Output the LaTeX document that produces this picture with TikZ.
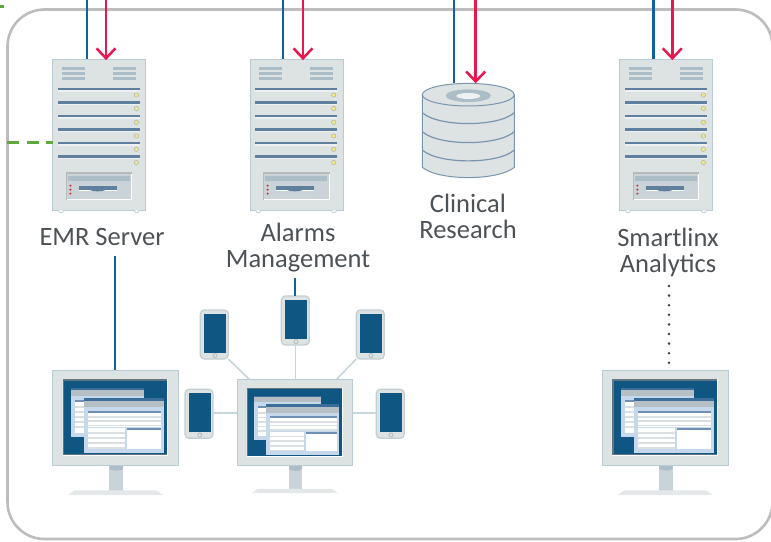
\documentclass[tikz,border=0pt]{standalone}
\usepackage{fontspec}
\setmainfont{Carlito}
\usetikzlibrary{arrows.meta}
\definecolor{bodyc}{HTML}{DDE2E3}
\definecolor{edgec}{HTML}{B9CBD3}
\definecolor{barc}{HTML}{5F7F9F}
\definecolor{ventc}{HTML}{ABBDC7}
\definecolor{panelc}{HTML}{C9D3D8}
\definecolor{navy}{HTML}{0F5782}
\definecolor{winc}{HTML}{C5D8EC}
\definecolor{winbar}{HTML}{6F8FB5}
\definecolor{winhead}{HTML}{3C6E9C}
\definecolor{wingray}{HTML}{B6BFC3}
\definecolor{rowc}{HTML}{D9DFE2}
\definecolor{blueln}{HTML}{0F619F}
\definecolor{redln}{HTML}{E8174F}
\definecolor{greenln}{HTML}{5FA83C}
\definecolor{frame}{HTML}{BDBDBD}
\definecolor{txt}{HTML}{4D5257}
\definecolor{linkc}{HTML}{C8D6DB}
\definecolor{phoneedge}{HTML}{C3CED2}
\tikzset{
  x=1pt,y=-1pt,
  hold/.style={inner sep=0pt,outer sep=0pt,anchor=north west},
  label/.style={align=center,text=txt,font=\fontsize{26.5}{26}\selectfont,inner sep=0pt},
  bluewire/.style={blueln,line width=2.5pt},
  redwire/.style={redln,line width=2.5pt,-{Straight Barb[length=10pt,width=19pt,line width=2.5pt]}},
  link/.style={linkc,line width=1.6pt},
  serverpic/.pic={
    \filldraw[fill=bodyc,draw=edgec,line width=1pt] (0,0) rectangle (93,151);
    \foreach \xx in {9.3,60.3}\foreach \yy in {7.7,13,17.7}
      \fill[ventc] (\xx,\yy) rectangle ++(23,3);
    \foreach \yy/\hh in {28.6/2.3,41.4/3.3,55.6/2.3,68.4/3.3,82.6/2.3,95.4/3.3}{
      \fill[barc] (5.3,\yy) rectangle ++(82,\hh);
      \fill[white!50!bodyc] (5.3,\yy+\hh) rectangle ++(82,1.3);
    }
    \foreach \yy in {35.7,49.3,63,76.7,90,103.3}
      \filldraw[fill=yellow!45!bodyc,draw=gray!60,line width=.5pt] (83.7,\yy) circle[radius=2.2pt];
    \fill[white] (13.3,112.7) rectangle (79.7,140.7);
    \fill[panelc] (13.3,112.7) rectangle (78.7,139.7);
    \fill[gray!55] (13.3,112.7) rectangle (79.7,114.2);
    \fill[gray!55] (13.3,112.7) rectangle (14.1,140.7);
    \fill[ventc] (15.3,116.7) rectangle (77.3,121.7);
    \fill[white] (26.3,130.7) rectangle (64,131.6);
    \fill[barc] (26.3,126.7) rectangle (64,130.7);
    \fill[barc] (37,130.7) .. controls (40,132.5) and (50,132.5) .. (53,130.7);
    \foreach \yy in {126.3,130.3,134.3}
      \fill[red!70!gray] (17.7,\yy) circle[radius=1.1pt];
    \foreach \xx in {8.3,84}
      \filldraw[fill=white,draw=edgec,line width=.7pt] (\xx-2.5,151) arc[start angle=180,end angle=360,radius=2.5pt];
  },
  monitorpic/.pic={
    \fill[panelc] (57,94) rectangle (70.7,121);
    \fill[ventc] (57,94) -- (70.7,94) -- (70.7,98.5) .. controls (68,100.8) and (60,100.8) .. (57,98.5) -- cycle;
    \fill[bodyc!80!white] (22,120) -- (104,120) -- (110.3,124.7) -- (16,124.7) -- cycle;
    \filldraw[fill=bodyc,draw=edgec,line width=1pt] (0,0) rectangle (126.3,94.7);
    \fill[white] (10.3,9) rectangle (116,85.3);
    \fill[gray!75!navy] (10.3,9) rectangle (115,84.3);
    \fill[navy] (11.6,10.3) rectangle (115,84);
    % back window
    \fill[winc] (18.7,18) rectangle (91.7,67);
    \fill[winhead] (18.7,18) rectangle (91.7,19.7);
    \fill[wingray] (18.7,19.7) rectangle (91.7,25.3);
    \fill[white] (22.7,29.7) rectangle (31.7,62.3);
    \fill[winbar] (22.7,29.7) rectangle (31.7,31.7);
    \foreach \yy in {36,41,46,51,56}
      \fill[rowc] (22.7,\yy) rectangle (31.7,\yy+1.6);
    % front window
    \fill[winc] (31.7,27.3) rectangle (111.7,82.7);
    \fill[winhead] (31.7,27.3) rectangle (111.7,30.7);
    \fill[wingray] (31.7,30.7) rectangle (111.7,36.7);
    \fill[white] (35.7,40.7) rectangle (108.7,56.3);
    \fill[winbar] (35.7,40.7) rectangle (108.7,42.7);
    \foreach \yy in {46,50,54.5}
      \fill[rowc] (35.7,\yy) rectangle (108.7,\yy+1.6);
    \fill[white] (35.7,58) rectangle (72.7,78.7);
    \foreach \yy in {62,67,72,77}
      \fill[rowc] (35.7,\yy) rectangle (72.7,\yy+1.7);
    \fill[white] (74.7,58) rectangle (108.7,78.7);
    \fill[winbar] (74.7,58) rectangle (108.7,60);
  },
  phonepic/.pic={
    \filldraw[fill=bodyc,draw=phoneedge,line width=1.2pt,rounded corners=4pt] (0,0) rectangle (28,49);
    \fill[navy] (3.7,3.7) rectangle (25.7,42.7);
    \draw[edgec!80!gray,line width=.8pt] (14.7,45.6) circle[radius=2pt];
  }
}
\newcommand\serverat[3]{\node[hold,minimum width=93pt,minimum height=151pt] (#1) at (#2,#3) {};\pic at (#2,#3) {serverpic};}
\newcommand\monitorat[4]{\node[hold,minimum width=#4*126.3pt,minimum height=#4*94.7pt] (#1) at (#2,#3) {};\pic[scale=#4] at (#2,#3) {monitorpic};}
\newcommand\phoneat[3]{\node[hold,minimum width=28pt,minimum height=49pt] (#1) at (#2,#3) {};\pic at (#2,#3) {phonepic};}
\begin{document}
\begin{tikzpicture}
\useasboundingbox (0,0) rectangle (771,541);
\fill[white] (0,0) rectangle (771,541);
\draw[frame,line width=2.6pt,rounded corners=37pt] (7.5,9.5) rectangle (772.5,539);

% nodes
\serverat{emr}{52.7}{59.3}
\serverat{alarm}{250}{59.3}
\serverat{smart}{619.7}{59.3}
\node[hold,minimum width=92pt,minimum height=95pt] (db) at (422.3,83.3) {};
% database
\begin{scope}[shift={(468.3,0)}]
  \filldraw[fill=bodyc,draw=barc!70!edgec,line width=1pt] (-46,94.7) -- (-46,167.3) .. controls (-30,181) and (30,181) .. (46,167.3) -- (46,94.7) -- cycle;
  \foreach \yy in {112.7,131.7,150}
    \draw[barc!70!edgec,line width=1.2pt] (-46,\yy) .. controls (-30,\yy+14.5) and (30,\yy+14.5) .. (46,\yy);
  \filldraw[fill=bodyc,draw=barc!70!edgec,line width=1pt] (0,94.7) ellipse[x radius=46pt,y radius=11.3pt];
  \fill[ventc] (0,95.7) ellipse[x radius=22.7pt,y radius=6.3pt];
  \fill[bodyc!50!white] (0,96) ellipse[x radius=12pt,y radius=3pt];
\end{scope}

\node[label] (lemr) at (102,237) {EMR Server};
\node[label] (lalarm) at (298,248) {Alarms\\Management};
\node[label] (ldb) at (468,216) {Clinical\\Research};
\node[label] (lsmart) at (668,252) {Smartlinx\\Analytics};

\monitorat{m1}{52.3}{370.3}{1}
\monitorat{m2}{237.3}{379.3}{.913}
\monitorat{m3}{602}{370.3}{1}
\phoneat{p1}{200.3}{310}
\phoneat{p2}{281.3}{296}
\phoneat{p3}{356.3}{310}
\phoneat{p4}{185}{389.3}
\phoneat{p5}{376.3}{389.3}

% phone links
\draw[link] (p1.south east) -- ([xshift=12pt]m2.north west);
\draw[link] (p2.south) -- (p2.south |- m2.north);
\draw[link] (p3.south west) -- ([xshift=-16pt]m2.north east);
\draw[link] (p4.east |- 0,412.7) -- (m2.west |- 0,412.7);
\draw[link] (p5.west |- 0,412.7) -- (m2.east |- 0,412.7);

% top wires
\foreach \bx/\rx/\n in {87/106/emr,283/303/alarm,653.3/672.3/smart}{
  \coordinate (tb) at (\bx,-1);
  \coordinate (tr) at (\rx,-1);
  \draw[bluewire] (tb) -- (tb |- \n.north);
  \draw[redwire] (tr) -- ([yshift=-.8pt]tr |- \n.north);
}
\coordinate (tbd) at (454,-1);
\coordinate (trd) at (475.7,-1);
\draw[bluewire] (tbd) -- (tbd |- db.north);
\draw[redwire] (trd) -- (trd |- db.north);

% lower connectors
\coordinate (ca) at (115,256);
\draw[bluewire] (ca) -- (ca |- m1.north);
\coordinate (cb) at (295,278);
\draw[bluewire] (cb) -- (cb |- p2.north);
\coordinate (cc) at (669,286);
\draw[line width=2.8pt,line cap=round,gray!50!black,dash pattern=on 0pt off 9.6pt] (cc) -- ([yshift=7.5pt]cc |- m3.north);

% green
\coordinate (ga) at (7,142.3);
\draw[greenln,line width=2.6pt,dash pattern=on 12pt off 7.5pt] (ga) -- (ga -| emr.west);
\coordinate (gb) at (0,6.5);
\coordinate (gc) at (3.7,6.5);
\draw[greenln,line width=2.6pt] (gb) -- (gc);
\end{tikzpicture}
\end{document}
